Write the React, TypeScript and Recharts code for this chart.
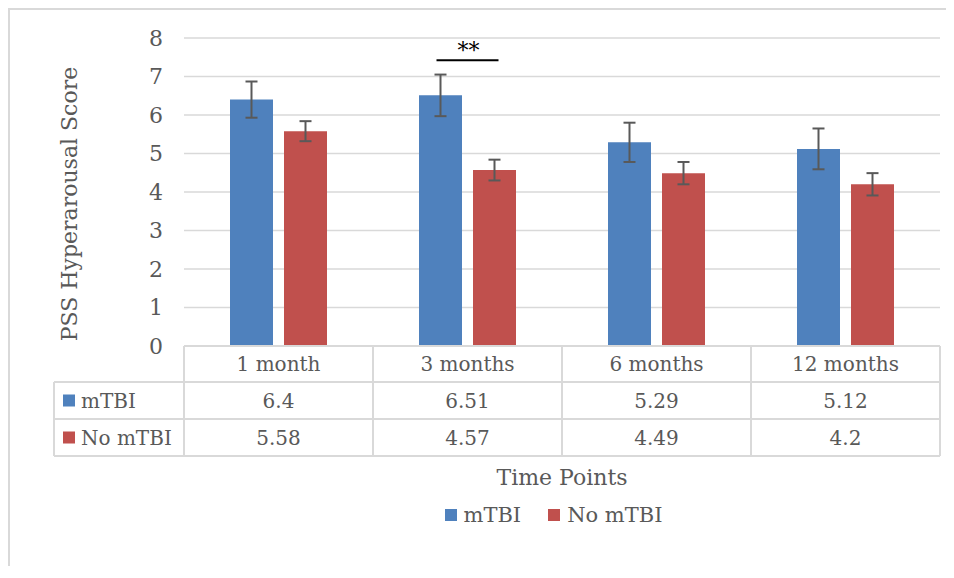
import React from 'react';
import { BarChart, Bar, XAxis, YAxis, CartesianGrid, ErrorBar, Legend, ReferenceDot } from 'recharts';

const categories = ['1 month', '3 months', '6 months', '12 months'];
const seriesNames = ['mTBI', 'No mTBI'];
const mtbiValues = [6.4, 6.51, 5.29, 5.12];
const noMtbiValues = [5.58, 4.57, 4.49, 4.2];
const mtbiErrors = [0.47, 0.54, 0.51, 0.53];
const noMtbiErrors = [0.26, 0.27, 0.29, 0.29];
const yTicks = [0, 1, 2, 3, 4, 5, 6, 7, 8];
const sigCategory = '3 months';
const sigLevel = 7.42;
const sigLabel = '**';

const data = categories.map((name, i) => ({
  name,
  mtbi: mtbiValues[i],
  noMtbi: noMtbiValues[i],
  mtbiErr: mtbiErrors[i],
  noMtbiErr: noMtbiErrors[i],
}));

const FONT = '"DejaVu Serif", serif';
const TEXT = '#595959';
const GRID = '#d9d9d9';
const BLUE = '#4f81bd';
const RED = '#c0504d';
const COLORS = [BLUE, RED];

const W = 944;
const H = 556;
const MARGIN = { top: 28, right: 14, left: 0, bottom: 0 };
const Y_AXIS_W = 174;
const X_AXIS_H = 220;
const PLOT_LEFT = MARGIN.left + Y_AXIS_W;
const PLOT_RIGHT = W - MARGIN.right;
const PLOT_BOTTOM = H - MARGIN.bottom - X_AXIS_H;
const BAND = (PLOT_RIGHT - PLOT_LEFT) / categories.length;
const ROW_LINES = [PLOT_BOTTOM, PLOT_BOTTOM + 36, PLOT_BOTTOM + 73, PLOT_BOTTOM + 110];
const LEFT_COL_W = 130;

const rowValues = [mtbiValues, noMtbiValues];

const TableTick = (props: any) => {
  const { x, payload, index } = props;
  const i = typeof index === 'number' ? index : payload.index;
  const half = BAND / 2;
  const left = x - half;
  const right = x + half;
  const centers = [
    (ROW_LINES[0] + ROW_LINES[1]) / 2,
    (ROW_LINES[1] + ROW_LINES[2]) / 2,
    (ROW_LINES[2] + ROW_LINES[3]) / 2,
  ];
  const tableLeft = left - LEFT_COL_W;
  return (
    <g>
      {ROW_LINES.slice(1).map((ly) => (
        <line key={'h' + ly} x1={left} x2={right} y1={ly} y2={ly} stroke={GRID} strokeWidth={2} />
      ))}
      <line x1={right} x2={right} y1={ROW_LINES[0]} y2={ROW_LINES[3]} stroke={GRID} strokeWidth={2} />
      {i === 0 && (
        <g>
          <line x1={left} x2={left} y1={ROW_LINES[0]} y2={ROW_LINES[3]} stroke={GRID} strokeWidth={2} />
          <line x1={tableLeft} x2={tableLeft} y1={ROW_LINES[1]} y2={ROW_LINES[3]} stroke={GRID} strokeWidth={2} />
          {ROW_LINES.slice(1).map((ly) => (
            <line key={'lh' + ly} x1={tableLeft} x2={left} y1={ly} y2={ly} stroke={GRID} strokeWidth={2} />
          ))}
          {seriesNames.map((n, r) => (
            <g key={n}>
              <rect x={tableLeft + 9} y={centers[r + 1] - 6} width={12} height={12} fill={COLORS[r]} />
              <text x={tableLeft + 27} y={centers[r + 1]} dy="0.36em" fill={TEXT} fontSize={20} fontFamily={FONT}>
                {n}
              </text>
            </g>
          ))}
        </g>
      )}
      <text x={x} y={centers[0]} dy="0.36em" textAnchor="middle" fill={TEXT} fontSize={20} fontFamily={FONT}>
        {payload.value}
      </text>
      {rowValues.map((vals, r) => (
        <text key={r} x={x} y={centers[r + 1]} dy="0.36em" textAnchor="middle" fill={TEXT} fontSize={20} fontFamily={FONT}>
          {String(vals[i])}
        </text>
      ))}
    </g>
  );
};

const YTitle = (props: any) => {
  const vb = props.viewBox || { x: 0, y: MARGIN.top, width: Y_AXIS_W, height: PLOT_BOTTOM - MARGIN.top };
  const cx = vb.x + 67;
  const cy = vb.y + vb.height / 2 + 12;
  return (
    <text x={cx} y={cy} transform={`rotate(-90, ${cx}, ${cy})`} textAnchor="middle" fill={TEXT} fontSize={22} fontFamily={FONT}>
      PSS Hyperarousal Score
    </text>
  );
};

const XTitle = (props: any) => {
  const vb = props.viewBox || { x: PLOT_LEFT, y: PLOT_BOTTOM, width: PLOT_RIGHT - PLOT_LEFT, height: X_AXIS_H };
  return (
    <text x={vb.x + vb.width / 2} y={vb.y + 139} textAnchor="middle" fill={TEXT} fontSize={22} fontFamily={FONT}>
      Time Points
    </text>
  );
};

const SigMark = (props: any) => {
  const { cx, cy } = props;
  if (cx == null || cy == null) return null;
  return (
    <g>
      <line x1={cx - 31} x2={cx + 31} y1={cy} y2={cy} stroke="#000" strokeWidth={2} />
      <text x={cx + 1} y={cy - 2} textAnchor="middle" fill="#000" fontSize={22} fontFamily={FONT}>
        {sigLabel}
      </text>
    </g>
  );
};

const renderLegend = (props: any) => {
  const payload = [...(props.payload || [])].sort(
    (a: any, b: any) => seriesNames.indexOf(a.value) - seriesNames.indexOf(b.value)
  );
  return (
    <div
      style={{
        display: 'flex',
        justifyContent: 'center',
        alignItems: 'center',
        width: W,
        paddingLeft: 143,
        boxSizing: 'border-box',
        fontFamily: FONT,
        fontSize: 21,
        color: TEXT,
        lineHeight: '24px',
      }}
    >
      {payload.map((entry: any, k: number) => (
        <div key={entry.value} style={{ display: 'flex', alignItems: 'center', marginLeft: k ? 27 : 0 }}>
          <span style={{ display: 'inline-block', width: 12, height: 12, background: entry.color, marginRight: 7 }} />
          <span>{entry.value}</span>
        </div>
      ))}
    </div>
  );
};

export default function App() {
  return (
    <div
      style={{
        position: 'relative',
        width: W,
        height: H,
        borderLeft: `2px solid ${GRID}`,
        borderTop: `2px solid ${GRID}`,
        background: '#fff',
      }}
    >
      <BarChart width={W} height={H} data={data} margin={MARGIN} barCategoryGap={46} barGap={11}>
        <CartesianGrid vertical={false} stroke={GRID} strokeWidth={1.5} />
        <XAxis
          dataKey="name"
          height={X_AXIS_H}
          interval={0}
          tickLine={false}
          tickSize={0}
          tickMargin={0}
          axisLine={{ stroke: GRID, strokeWidth: 2 }}
          tick={<TableTick />}
          label={<XTitle />}
        />
        <YAxis
          width={Y_AXIS_W}
          domain={[0, 8]}
          ticks={yTicks}
          interval={0}
          axisLine={false}
          tickLine={false}
          tickSize={0}
          tickMargin={21}
          tick={{ fill: TEXT, fontSize: 22, fontFamily: FONT }}
          label={<YTitle />}
        />
        <Legend
          verticalAlign="middle"
          align="center"
          layout="horizontal"
          content={renderLegend}
          wrapperStyle={{ position: 'absolute', left: 0, top: 493, width: W }}
        />
        <Bar dataKey="mtbi" name={seriesNames[0]} fill={BLUE} barSize={43} isAnimationActive={false}>
          <ErrorBar dataKey="mtbiErr" width={6} stroke={TEXT} strokeWidth={2} isAnimationActive={false} />
        </Bar>
        <Bar dataKey="noMtbi" name={seriesNames[1]} fill={RED} barSize={43} isAnimationActive={false}>
          <ErrorBar dataKey="noMtbiErr" width={6} stroke={TEXT} strokeWidth={2} isAnimationActive={false} />
        </Bar>
        <ReferenceDot x={sigCategory} y={sigLevel} ifOverflow="visible" shape={<SigMark />} />
      </BarChart>
    </div>
  );
}
